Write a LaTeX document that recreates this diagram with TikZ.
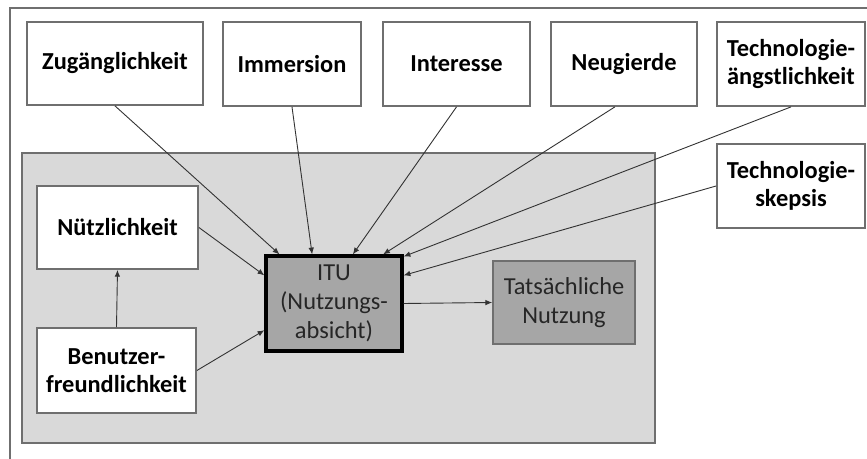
\documentclass[tikz,border=0pt]{standalone}
\usepackage{fontspec}
\setmainfont{Carlito}
\usetikzlibrary{arrows.meta}

\definecolor{framegray}{HTML}{6F6F6F}
\definecolor{areagray}{HTML}{D9D9D9}
\definecolor{boxgray}{HTML}{A6A6A6}

\begin{document}
\begin{tikzpicture}[x=0.5pt, y=-0.5pt,
  factor/.style={rectangle, draw=framegray, line width=0.9pt, fill=white, align=center,
    font=\fontsize{12.2}{14.2}\selectfont\bfseries, inner sep=0pt},
  arr/.style={-{Latex[length=3.4pt,width=2.8pt]}, draw=black!80, line width=0.45pt}]
\useasboundingbox (0,0) rectangle (867,459);

% outer frame (cut off at right and bottom)
\draw[framegray, line width=0.9pt] (10,459) -- (10,8) -- (867,8);

% TAM core area
\draw[framegray, line width=0.8pt, fill=areagray] (22,153) rectangle (655,443);

% external factors
\node[factor, minimum width=88pt, minimum height=41.5pt] (zug) at (115,63.5) {Zugänglichkeit};
\node[factor, minimum width=69pt, minimum height=42pt] (imm) at (292,64) {Immersion};
\node[factor, minimum width=73.5pt, minimum height=42pt] (int) at (456.5,64) {Interesse};
\node[factor, minimum width=73pt, minimum height=42pt] (neu) at (624,64) {Neugierde};
\node[factor, minimum width=74pt, minimum height=42pt] (angst) at (791,64) {Technologie-\\ängstlichkeit};
\node[factor, minimum width=74pt, minimum height=42pt] (skep) at (791,186) {Technologie-\\skepsis};

% TAM constructs
\node[factor, minimum width=80.5pt, minimum height=41.5pt] (nuetz) at (117.5,227.5) {Nützlichkeit};
\node[factor, minimum width=79.5pt, minimum height=42.5pt] (benutz) at (116.5,370.5) {Benutzer-\\freundlichkeit};

\node[rectangle, draw=black, line width=1.6pt, fill=boxgray, align=center, text=black!85,
  font=\fontsize{12.2}{14.5}\selectfont, minimum width=68pt, minimum height=47.5pt, inner sep=0pt]
  (itu) at (334,303.5) {ITU\\(Nutzungs-\\absicht)};
\node[rectangle, draw=framegray, line width=0.8pt, fill=boxgray, align=center, text=black!85,
  font=\fontsize{12.2}{14.5}\selectfont, minimum width=71pt, minimum height=41.5pt, inner sep=0pt]
  (tat) at (564,302.5) {Tatsächliche\\Nutzung};

% influences
\draw[arr] (zug.south) -- (itu.138);
\draw[arr] (imm.south) -- (itu.114);
\draw[arr] (int.south) -- (itu.69);
\draw[arr] (neu.258) -- (itu.45);
\draw[arr] (angst.south) -- (itu.34);
\draw[arr] (skep.west) -- (itu.22);
\draw[arr] (nuetz.east) -- (itu.158);
\draw[arr] (benutz.east) -- (itu.201);
\draw[arr] (benutz.north) -- (nuetz.south);
\draw[arr] (itu.east) -- (tat.west);
\end{tikzpicture}
\end{document}
